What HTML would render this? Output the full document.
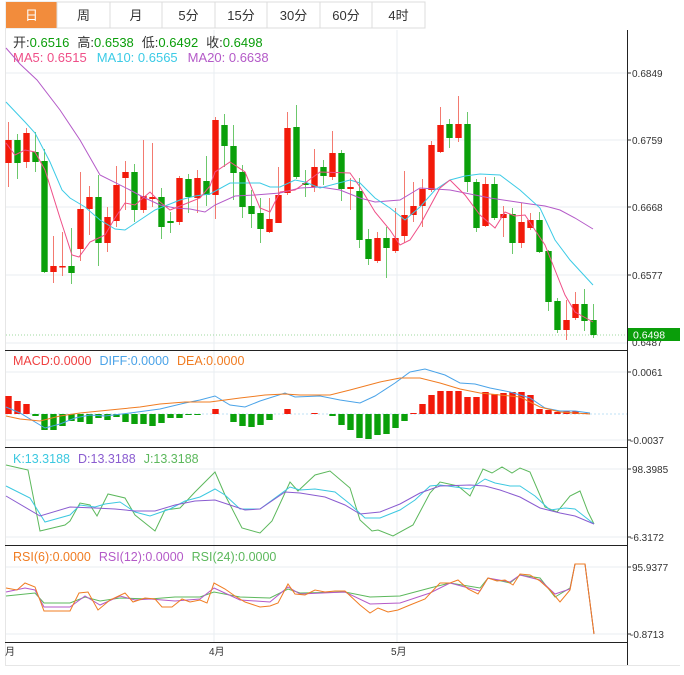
<!DOCTYPE html>
<html><head><meta charset="utf-8"><style>
body{margin:0;background:#fff;width:684px;height:675px;overflow:hidden;font-family:"Liberation Sans","Noto Sans CJK SC",sans-serif}
svg{position:absolute;left:0;top:0}
text{font-family:"Liberation Sans","Noto Sans CJK SC",sans-serif}
</style></head><body>
<svg id="s" width="684" height="675" xmlns="http://www.w3.org/2000/svg">
<rect x="6" y="2" width="419" height="26" fill="#fff" stroke="#dcdcdc"/>
<rect x="6" y="2" width="51" height="26" fill="#f28c3c"/>
<g stroke="#dcdcdc"><line x1="57" y1="2" x2="57" y2="28"/><line x1="110" y1="2" x2="110" y2="28"/><line x1="162" y1="2" x2="162" y2="28"/><line x1="215" y1="2" x2="215" y2="28"/><line x1="267" y1="2" x2="267" y2="28"/><line x1="320" y1="2" x2="320" y2="28"/><line x1="372" y1="2" x2="372" y2="28"/></g>
<g font-size="13" text-anchor="middle" fill="#333"><text x="31.5" y="20" fill="#fff">日</text><text x="83.5" y="20">周</text><text x="136" y="20">月</text><text x="188.5" y="20">5分</text><text x="241" y="20">15分</text><text x="293.5" y="20">30分</text><text x="346" y="20">60分</text><text x="398.5" y="20">4时</text></g>
<g stroke="#e6e6e6"><line x1="5.5" y1="28" x2="5.5" y2="665"/><line x1="5" y1="665.5" x2="680" y2="665.5"/></g>
<g stroke="#e8eef2"><line x1="214" y1="30" x2="214" y2="642"/><line x1="397" y1="30" x2="397" y2="642"/>
<line x1="6" y1="73" x2="627" y2="73"/><line x1="6" y1="140" x2="627" y2="140"/><line x1="6" y1="207" x2="627" y2="207"/><line x1="6" y1="275" x2="627" y2="275"/><line x1="6" y1="343" x2="627" y2="343"/>
<line x1="6" y1="372" x2="627" y2="372"/><line x1="6" y1="440" x2="627" y2="440"/>
<line x1="6" y1="469" x2="627" y2="469"/><line x1="6" y1="537" x2="627" y2="537"/>
<line x1="6" y1="567" x2="627" y2="567"/><line x1="6" y1="634" x2="627" y2="634"/></g>
<g stroke="#222"><line x1="627.5" y1="30" x2="627.5" y2="665"/>
<line x1="5" y1="350.5" x2="627" y2="350.5"/><line x1="5" y1="447.5" x2="627" y2="447.5"/><line x1="5" y1="545.5" x2="627" y2="545.5"/><line x1="5" y1="642.5" x2="627" y2="642.5"/></g>
<line x1="6" y1="335" x2="627" y2="335" stroke="#9fd89f" stroke-dasharray="1,2"/>
<line x1="6" y1="414" x2="627" y2="414" stroke="#bfe0f5" stroke-dasharray="2,2"/>
<g font-size="10" fill="#333">
<text x="632" y="77">0.6849</text><text x="632" y="144">0.6759</text><text x="632" y="211">0.6668</text><text x="632" y="279">0.6577</text><text x="632" y="346">0.6487</text>
<text x="632" y="376">0.0061</text><text x="630" y="444">-0.0037</text>
<text x="632" y="473">98.3985</text><text x="630" y="541">-6.3172</text>
<text x="632" y="571">95.9377</text><text x="630" y="638">-0.8713</text>
<text x="5" y="655">月</text><text x="209" y="655">4月</text><text x="391" y="655">5月</text></g>
<g stroke="#333"><line x1="627" y1="73" x2="631" y2="73"/><line x1="627" y1="140" x2="631" y2="140"/><line x1="627" y1="207" x2="631" y2="207"/><line x1="627" y1="275" x2="631" y2="275"/><line x1="627" y1="372" x2="631" y2="372"/><line x1="627" y1="440" x2="631" y2="440"/><line x1="627" y1="469" x2="631" y2="469"/><line x1="627" y1="537" x2="631" y2="537"/><line x1="627" y1="567" x2="631" y2="567"/><line x1="627" y1="634" x2="631" y2="634"/></g>
<rect x="628" y="328" width="52" height="13" fill="#0a9e0a"/>
<text x="633" y="338.5" font-size="10.5" fill="#fff">0.6498</text>
<text x="13" y="47" font-size="13" fill="#333">开:<tspan fill="#0a9e0a">0.6516</tspan><tspan dx="8">高:</tspan><tspan fill="#0a9e0a">0.6538</tspan><tspan dx="8">低:</tspan><tspan fill="#0a9e0a">0.6492</tspan><tspan dx="8">收:</tspan><tspan fill="#0a9e0a">0.6498</tspan></text>
<text x="13" y="62" font-size="13" fill="#ef4f88">MA5: 0.6515<tspan fill="#3ccbe6" dx="10">MA10: 0.6565</tspan><tspan fill="#b45ac8" dx="10">MA20: 0.6638</tspan></text>
<text x="13" y="365" font-size="12.5" fill="#f04040">MACD:0.0000<tspan fill="#4aa3e8" dx="8">DIFF:0.0000</tspan><tspan fill="#f07c22" dx="8">DEA:0.0000</tspan></text>
<text x="13" y="463" font-size="12.5" fill="#3cc8e0">K:13.3188<tspan fill="#8a5cd0" dx="8">D:13.3188</tspan><tspan fill="#5cb85c" dx="8">J:13.3188</tspan></text>
<text x="13" y="561" font-size="12.5" fill="#f07c22">RSI(6):0.0000<tspan fill="#b45ac8" dx="8">RSI(12):0.0000</tspan><tspan fill="#5cb85c" dx="8">RSI(24):0.0000</tspan></text>
<g id="g"></g>
</svg>
<script>
var NS="http://www.w3.org/2000/svg",G=document.getElementById("g");
function el(t,a){var e=document.createElementNS(NS,t);for(var k in a)e.setAttribute(k,a[k]);G.appendChild(e);return e;}
var R="#f21a0a",GR="#0aa00a";
var C=[[163,140,122,187,1],[140,163,134,179,0],[162,133,128,168,1],[152,162,132,172,0],[161,272,149,273,0],[272,266,236,283,1],[266,266,232,276,1],[266,273,228,284,0],[249,209,172,261,1],[209,197,186,235,1],[197,243,175,266,0],[243,217,207,252,1],[221,185,166,227,1],[178,172,161,210,1],[172,210,164,222,0],[210,196,140,213,1],[199,197,143,207,1],[197,227,188,239,0],[221,223,212,233,0],[222,178,176,225,1],[179,197,174,213,0],[198,178,170,213,1],[181,195,156,206,0],[195,120,117,219,1],[125,146,114,167,0],[146,173,125,200,0],[172,207,165,218,0],[206,214,190,228,0],[213,229,198,243,0],[232,219,198,233,1],[223,195,167,223,1],[193,128,112,195,1],[127,177,105,179,0],[183,185,170,197,0],[187,167,149,192,1],[167,176,160,185,0],[177,153,131,180,1],[153,189,150,201,0],[189,187,178,210,1],[191,240,178,248,0],[239,259,229,265,0],[261,238,232,263,1],[238,248,227,278,0],[251,238,208,253,1],[236,215,171,243,1],[215,206,182,222,1],[206,189,179,227,1],[190,145,141,192,1],[152,125,107,153,1],[124,138,119,148,0],[138,124,96,142,1],[124,182,112,192,0],[182,228,179,232,0],[226,184,177,227,1],[184,218,177,220,0],[218,214,206,237,1],[214,243,208,254,0],[243,222,203,248,1],[228,220,213,230,1],[220,252,212,253,0],[251,302,250,311,0],[301,330,298,333,0],[330,320,300,340,1],[318,304,292,320,1],[304,321,289,331,0],[320,335,304,338,0]];
C.forEach(function(c,i){var x=8.5+9*i,col=c[4]?R:GR,t=Math.min(c[0],c[1]),b=Math.max(c[0],c[1]);
el("line",{x1:x,y1:c[2],x2:x,y2:c[3],stroke:c[4]?"#f37a70":"#6cc86c","stroke-width":1});
el("rect",{x:x-3.2,y:t,width:6.4,height:Math.max(b-t,1.5),fill:col});});
function pl(p,col,w){el("polyline",{points:p,fill:"none",stroke:col,"stroke-width":w||1});}
pl("6,48 20,64 37,80 60,110 80,140 100,175 130,190 143,197 160,205 175,208 190,209 205,212 215,205 235,196 255,195 280,193 300,188 320,187 340,190 360,198 375,202 400,200 420,188 450,190 470,194 490,198 510,201 530,204 545,206 560,210 575,218 593,229","#b45ac8");
pl("6,102 25,122 35,133 50,162 62,190 70,198 85,207 100,220 115,229 125,230 140,220 155,210 165,206 180,200 195,196 210,194 230,183 245,183 260,183 270,187 280,187 295,180 305,182 320,188 350,180 360,183 375,198 390,208 405,220 420,207 435,190 450,180 465,176 480,174 500,175 520,190 540,208 555,240 570,260 593,285","#3ccbe6");
pl("6,143 15,155 25,150 35,152 45,170 60,218 72,255 79,257 90,242 105,235 115,218 125,203 135,205 150,192 160,202 170,210 185,204 200,198 210,186 215,172 230,162 245,172 260,208 270,212 280,192 295,190 305,183 320,172 350,173 360,187 375,212 390,230 400,245 410,240 420,225 440,188 450,180 465,195 480,215 495,228 505,212 515,216 525,215 535,230 545,245 555,270 565,295 575,312 593,322","#ef4f88");
var H=[-18,-13,-10,2,16,16,12,7,8,10,4,6,3,8,10,10,12,9,4,4,1,1,0,-5,0,8,12,13,11,6,0,-5,0,0,-1,0,2,11,16,24,25,21,20,14,7,-1,-10,-19,-23,-23,-23,-17,-17,-22,-20,-21,-22,-22,-19,-5,-4,-2,-3,-3,-1,0];
H.forEach(function(v,i){if(!v)return;var x=8.5+9*i;el("rect",{x:x-3.2,y:v<0?414+v:414,width:6.4,height:Math.abs(v),fill:v<0?R:GR});});
pl("6,407 20,413 45,428 60,424 75,418 90,415 105,416 130,413 160,409 185,403 200,400 215,396 230,405 245,407 260,401 285,393 295,397 320,396 340,400 360,403 375,396 395,383 410,372 425,369 445,375 460,383 475,384 490,388 510,392 530,398 545,408 560,411 575,411 590,413","#4aa3e8");
pl("6,416 20,419 40,421 60,416 80,413 100,411 120,409 140,407 160,404 185,402 210,402 240,398 265,395 285,394 300,395 330,395 350,390 380,382 400,378 420,378 440,383 460,389 480,393 500,395 520,397 540,407 560,412 590,414","#f07c22");
pl("6,465 28,470 40,531 65,525 70,521 80,503 90,505 97,516 108,494 125,498 135,515 155,531 165,510 180,508 195,492 215,472 225,495 242,528 260,533 272,521 290,482 298,491 315,475 330,471 350,488 360,520 372,531 378,530 393,536 413,525 430,493 440,482 458,486 470,496 483,469 492,473 502,467 512,473 520,468 530,472 545,507 557,512 570,496 580,491 588,512 594,524","#5cb85c");
pl("6,486 30,498 45,522 70,515 80,505 95,507 105,504 120,502 135,512 150,516 170,509 185,501 200,497 215,489 225,495 240,509 260,509 275,498 290,487 300,490 315,489 335,492 350,504 365,518 380,518 400,510 415,500 430,486 440,485 455,487 470,489 485,479 495,483 510,486 520,486 535,496 550,510 565,508 575,509 594,524","#3cc8e0");
pl("6,496 40,516 70,507 95,508 115,509 135,511 155,511 175,505 195,501 215,500 230,505 245,510 260,509 285,492 300,493 325,497 345,505 360,514 380,512 400,504 420,493 440,486 470,485 485,486 500,490 520,497 540,508 560,513 575,516 594,524","#8a5cd0");
pl("6,596 35,593 44,603 70,603 85,597 100,601 120,598 150,599 175,597 200,597 214,592 240,597 270,598 288,589 300,593 345,592 370,597 400,596 430,588 450,583 480,588 488,578 510,583 520,575 540,578 555,597 570,588 575,564 585,564 594,634","#5cb85c");
pl("6,592 25,588 35,590 44,607 70,607 85,596 100,605 120,596 135,600 150,599 175,601 200,599 214,588 240,600 270,602 288,587 300,594 345,592 370,604 400,603 430,593 450,583 480,591 488,578 510,582 520,575 540,580 555,594 570,589 575,564 585,564 594,634","#b45ac8");
pl("6,588 17,590 25,583 35,587 44,611 70,611 79,593 88,592 98,610 110,600 125,593 133,602 145,598 155,599 162,607 172,607 182,599 190,602 200,600 207,603 214,583 225,589 235,596 245,602 260,607 270,606 278,603 288,584 295,594 305,595 315,590 325,592 335,591 345,591 360,605 370,613 378,608 388,612 398,610 410,605 425,599 440,583 450,583 458,580 468,589 478,594 488,578 497,581 505,580 513,585 520,574 530,575 540,581 550,590 560,602 570,590 575,564 585,564 594,634","#f07c22");
</script>
</body></html>
